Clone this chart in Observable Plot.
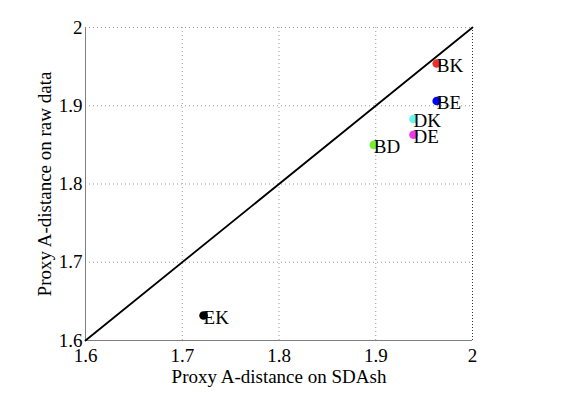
<!DOCTYPE html>
<html>
<head>
<meta charset="utf-8">
<script src="https://cdn.jsdelivr.net/npm/d3@7"></script>
<script src="https://cdn.jsdelivr.net/npm/@observablehq/plot@0.6"></script>
<style>
  html, body { margin: 0; padding: 0; background: #fff; }
  #chart { width: 577px; height: 395px; }
</style>
</head>
<body>
<div id="chart"></div>
<script>
const labels = ["BK", "BE", "DK", "DE", "BD", "EK"];
const sdashValues = [1.963, 1.963, 1.939, 1.939, 1.898, 1.722];
const rawValues = [1.954, 1.906, 1.883, 1.863, 1.850, 1.632];
const colors = ["#e8302e", "#0000ff", "#66f2f2", "#e63af0", "#77ee33", "#000000"];
const ticks = [1.6, 1.7, 1.8, 1.9, 2];
const diagonal = [1.6, 2];

const points = labels.map((l, i) => ({label: l, x: sdashValues[i], y: rawValues[i], color: colors[i]}));
const diag = diagonal.map(v => ({x: v, y: v}));
const fmt = d => d === 2 ? "2" : d.toFixed(1);

const chart = Plot.plot({
  width: 577,
  height: 395,
  marginLeft: 85,
  marginRight: 105,
  marginTop: 27,
  marginBottom: 55,
  style: {fontFamily: "'Liberation Serif', 'Times New Roman', serif", fontSize: "19px", color: "#000", background: "#fff"},
  x: {domain: [1.6, 2], ticks: ticks, tickFormat: fmt, tickSize: 0, tickPadding: 8, label: "Proxy A-distance on SDAsh", labelAnchor: "center", labelArrow: "none", labelOffset: 42},
  y: {domain: [1.6, 2], ticks: ticks, tickFormat: fmt, tickSize: 0, tickPadding: 3, label: "Proxy A-distance on raw data", labelAnchor: "center", labelArrow: "none", labelOffset: 48},
  marks: [
    Plot.gridX(ticks.slice(1, 4), {stroke: "#999", strokeOpacity: 1, strokeDasharray: "1,3"}),
    Plot.gridY(ticks.slice(1), {stroke: "#999", strokeOpacity: 1, strokeDasharray: "1,3"}),
    Plot.gridX([2], {stroke: "#333", strokeOpacity: 1, strokeDasharray: "1,2"}),
    Plot.ruleX([1.6], {stroke: "#808080"}),
    Plot.ruleY([1.6], {stroke: "#808080"}),
    Plot.line(diag, {x: "x", y: "y", stroke: "#000", strokeWidth: 1.8}),
    Plot.dot(points, {x: "x", y: "y", r: 4.3, fill: "color", stroke: null}),
    Plot.text(points, {x: "x", y: "y", text: "label", textAnchor: "start", dx: 0, dy: 2, fill: "#000", fontSize: 19})
  ]
});
document.getElementById("chart").appendChild(chart);
</script>
</body>
</html>
